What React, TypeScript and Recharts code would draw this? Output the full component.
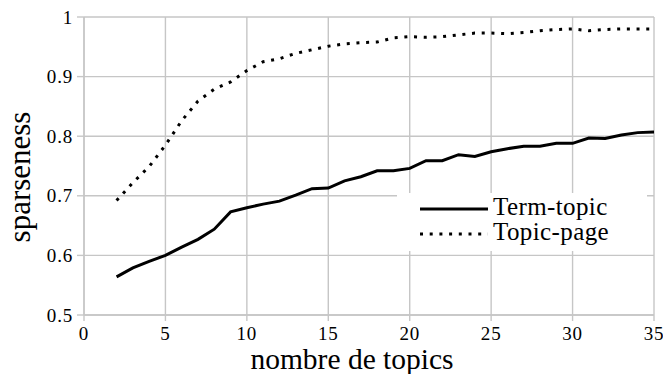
import React from 'react';
import { LineChart, Line, XAxis, YAxis, CartesianGrid, Legend } from 'recharts';

const topics = [2, 3, 4, 5, 6, 7, 8, 9, 10, 11, 12, 13, 14, 15, 16, 17, 18, 19, 20, 21, 22, 23, 24, 25, 26, 27, 28, 29, 30, 31, 32, 33, 34, 35];
const termTopic = [0.564, 0.579, 0.590, 0.600, 0.614, 0.627, 0.644, 0.673, 0.680, 0.686, 0.691, 0.701, 0.712, 0.713, 0.725, 0.732, 0.742, 0.742, 0.746, 0.759, 0.759, 0.769, 0.766, 0.774, 0.779, 0.783, 0.783, 0.788, 0.788, 0.797, 0.796, 0.802, 0.806, 0.807];
const topicPage = [0.692, 0.722, 0.749, 0.785, 0.826, 0.859, 0.879, 0.891, 0.910, 0.925, 0.930, 0.939, 0.945, 0.951, 0.955, 0.957, 0.958, 0.965, 0.967, 0.966, 0.967, 0.970, 0.973, 0.973, 0.972, 0.974, 0.977, 0.979, 0.980, 0.977, 0.979, 0.980, 0.980, 0.980];
const xTicks = [0, 5, 10, 15, 20, 25, 30, 35];
const yTicks = [0.5, 0.6, 0.7, 0.8, 0.9, 1];
const seriesNames = ['Term-topic', 'Topic-page'];
const xLabel = 'nombre de topics';
const yLabel = 'sparseness';

const data = topics.map((t, i) => ({ t, a: termTopic[i], b: topicPage[i] }));

const FONT = '"Liberation Serif", "Times New Roman", serif';
const GRID = '#c6c6c6';

const XTick = (props: any) => {
  const { x, y, payload } = props;
  return (
    <text x={x} y={y + 12.5} textAnchor="middle" style={{ fontFamily: FONT, fontSize: 19, letterSpacing: 0.8 }} fill="#000">
      {payload.value}
    </text>
  );
};

const YTick = (props: any) => {
  const { x, y, payload } = props;
  return (
    <text x={x} y={y + 6.5} textAnchor="end" style={{ fontFamily: FONT, fontSize: 19, letterSpacing: 0.8 }} fill="#000">
      {payload.value}
    </text>
  );
};

const LegendContent = (props: any) => {
  const payload = props.payload || [];
  return (
    <div style={{ background: '#fff', width: 250, height: 58, fontFamily: FONT }}>
      <svg width={250} height={58}>
        {payload.map((p: any, i: number) => (
          <g key={i}>
            <line
              x1={23}
              x2={91}
              y1={16 + i * 25}
              y2={16 + i * 25}
              stroke="#000"
              strokeWidth={3}
              strokeDasharray={p.payload && p.payload.strokeDasharray ? '3 6.7' : undefined}
            />
            <text x={96} y={22 + i * 25} style={{ fontFamily: FONT, fontSize: 25, letterSpacing: 0.4 }} fill="#000">
              {p.value}
            </text>
          </g>
        ))}
      </svg>
    </div>
  );
};

export default function App() {
  return (
    <div style={{ position: 'absolute', left: 0, top: 0, fontFamily: FONT }}>
      <LineChart width={663} height={374} data={data} margin={{ top: 17, right: 9, left: 0, bottom: 0 }}>
        <CartesianGrid stroke={GRID} strokeWidth={1.4} />
        <XAxis
          dataKey="t"
          type="number"
          domain={[0, 35]}
          ticks={xTicks}
          height={59}
          stroke={GRID}
          strokeWidth={1.4}
          tickSize={6}
          tickMargin={6}
          tick={<XTick />}
          label={{
            content: (lp: any) => (
              <text x={352} y={369} textAnchor="middle" style={{ fontFamily: FONT, fontSize: 29.5 }} fill="#000">
                {xLabel}
              </text>
            ),
          }}
        />
        <YAxis
          type="number"
          domain={[0.5, 1]}
          ticks={yTicks}
          width={84}
          stroke={GRID}
          strokeWidth={1.4}
          tickSize={7}
          tickMargin={4}
          tick={<YTick />}
          label={{
            content: (lp: any) => (
              <text
                x={30}
                y={177}
                transform="rotate(-90 30 177)"
                textAnchor="middle"
                style={{ fontFamily: FONT, fontSize: 31 }}
                fill="#000"
              >
                {yLabel}
              </text>
            ),
          }}
        />
        <Legend
          layout="vertical"
          align="center"
          verticalAlign="middle"
          content={<LegendContent />}
          wrapperStyle={{ left: 397, top: 193, width: 250, height: 58 }}
        />
        <Line
          type="linear"
          dataKey="a"
          name={seriesNames[0]}
          stroke="#000"
          strokeWidth={3}
          dot={false}
          isAnimationActive={false}
        />
        <Line
          type="linear"
          dataKey="b"
          name={seriesNames[1]}
          stroke="#000"
          strokeWidth={3}
          strokeDasharray="3 6.7"
          dot={false}
          isAnimationActive={false}
        />
      </LineChart>
    </div>
  );
}
